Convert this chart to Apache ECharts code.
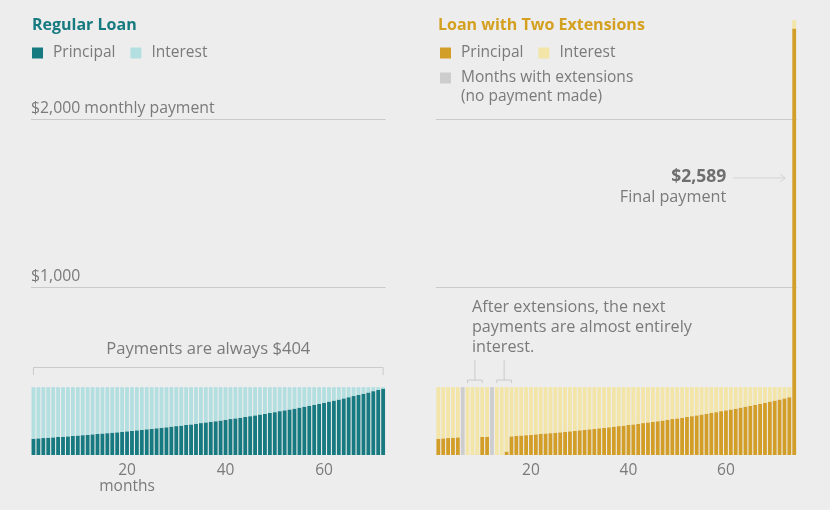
<!DOCTYPE html>
<html><head><meta charset="utf-8">
<script src="https://cdn.jsdelivr.net/npm/echarts@6/dist/echarts.min.js"></script>
<style>html,body{margin:0;padding:0;background:#ededed}#c{width:830px;height:510px}</style>
</head><body><div id="c"></div>
<script>
// ---- data ----
const tickLabels = ['20', '40', '60'];
const regularPayment = 404;
const regularPrincipal = [
  97, 99, 101, 103, 105, 107, 109, 111, 113, 116,
  118, 120, 123, 125, 128, 130, 133, 135, 138, 141,
  144, 147, 150, 153, 156, 159, 162, 165, 169, 172,
  175, 179, 182, 186, 190, 194, 197, 201, 205, 210,
  214, 218, 222, 227, 231, 236, 241, 245, 250, 255,
  261, 266, 271, 276, 282, 288, 293, 299, 305, 311,
  318, 324, 330, 337, 344, 351, 358, 365, 372, 380,
  387, 395];
const regularInterest = [
  307, 305, 303, 301, 299, 297, 295, 293, 291, 288,
  286, 284, 281, 279, 276, 274, 271, 269, 266, 263,
  260, 257, 254, 251, 248, 245, 242, 239, 235, 232,
  229, 225, 222, 218, 214, 210, 207, 203, 199, 194,
  190, 186, 182, 177, 173, 168, 163, 159, 154, 149,
  143, 138, 133, 128, 122, 116, 111, 105, 99, 93,
  86, 80, 74, 67, 60, 53, 46, 39, 32, 24,
  17, 9];
const extPrincipal = [
  97, 99, 101, 103, 105, 0, 1, 1, 2, 107,
  109, 0, 1, 1, 20, 111, 113, 116, 118, 120,
  123, 125, 128, 130, 133, 135, 138, 141, 144, 147,
  150, 153, 156, 159, 162, 165, 169, 172, 175, 179,
  182, 186, 190, 194, 197, 201, 205, 210, 214, 218,
  222, 227, 231, 236, 241, 245, 250, 255, 261, 266,
  271, 276, 282, 288, 293, 299, 305, 311, 318, 324,
  330, 337, 344, 2538];
const extInterest = [
  307, 305, 303, 301, 299, 0, 403, 403, 402, 297,
  295, 0, 403, 403, 384, 293, 291, 288, 286, 284,
  281, 279, 276, 274, 271, 269, 266, 263, 260, 257,
  254, 251, 248, 245, 242, 239, 235, 232, 229, 225,
  222, 218, 214, 210, 207, 203, 199, 194, 190, 186,
  182, 177, 173, 168, 163, 159, 154, 149, 143, 138,
  133, 128, 122, 116, 111, 105, 99, 93, 86, 80,
  74, 67, 60, 51];
const extensionMonths = [6, 12];

// ---- derived tables ----
const regularMonths = regularPrincipal.map((_, i) => String(i + 1));
const extMonths = extPrincipal.map((_, i) => String(i + 1));
const extSkipped = extMonths.map(m => extensionMonths.includes(+m) ? regularPayment : 0);
const finalPayment = extPrincipal[extPrincipal.length - 1] + extInterest[extInterest.length - 1];

const FONT = '"Open Sans", sans-serif';
const GRAY = '#7a7a7a';
const TEAL = '#177a80', TEAL_L = '#b4dfe1';
const GOLD = '#d29e28', GOLD_T = '#d4a020', GOLD_L = '#f3e5a7';
const EXT = '#cdcdcd';
const LINE = '#cacaca';

const chart = echarts.init(document.getElementById('c'));

const yMax = 2600;
const gridTop = 18.2, gridH = 436.8;

function xAxis(gi, data, withName) {
  return {
    type: 'category', gridIndex: gi, data: data, boundaryGap: true,
    axisLine: {show: false}, axisTick: {show: false}, splitLine: {show: false},
    axisLabel: {
      interval: (idx, v) => tickLabels.includes(v),
      formatter: v => (withName && v === tickLabels[0]) ? v + '\nmonths' : v,
      color: GRAY, fontSize: 15.5, fontFamily: FONT, margin: 8, lineHeight: 16
    }
  };
}
function yAxis(gi) {
  return {type: 'value', gridIndex: gi, min: 0, max: yMax, show: false, splitLine: {show: false}};
}
function mline(labels) {
  return {
    silent: true, symbol: 'none', z: 1, animation: false,
    lineStyle: {color: LINE, width: 1, type: 'solid'},
    emphasis: {disabled: true},
    label: {show: !!labels, position: 'insideStartTop', color: GRAY, fontSize: 15.8, fontFamily: FONT, distance: [0, 3], padding: 0},
    data: [
      {yAxis: 2000, label: {formatter: labels ? '$2,000 monthly payment' : ''}},
      {yAxis: 1000, label: {formatter: labels ? '$1,000' : ''}}
    ]
  };
}
const legendText = {color: GRAY, fontSize: 15.5, fontFamily: FONT, padding: [0, 0, 0, 5]};
const legendBase = {icon: 'rect', itemWidth: 11, itemHeight: 11, itemGap: 15, selectedMode: false, padding: 0,
  textStyle: legendText, formatter: n => n.trim()};

chart.setOption({
  animation: false,
  backgroundColor: '#ededed',
  title: [
    {text: 'Regular Loan', left: 27, top: 12, textStyle: {color: TEAL, fontSize: 16, fontWeight: 'bold', fontFamily: FONT}},
    {text: 'Loan with Two Extensions', left: 433, top: 12, textStyle: {color: GOLD_T, fontSize: 16, fontWeight: 'bold', fontFamily: FONT}}
  ],
  legend: [
    Object.assign({left: 32, top: 45, data: ['Principal', 'Interest']}, legendBase),
    Object.assign({left: 440, top: 45, data: ['Principal ', 'Interest ']}, legendBase),
    Object.assign({left: 440, top: 70, data: ['Months with extensions']}, legendBase)
  ],
  grid: [
    {left: 31, width: 354.6, top: gridTop, height: gridH},
    {left: 435.9, width: 360.75, top: gridTop, height: gridH}
  ],
  xAxis: [xAxis(0, regularMonths, true), xAxis(1, extMonths, false)],
  yAxis: [yAxis(0), yAxis(1)],
  series: [
    {type: 'bar', name: 'Principal', xAxisIndex: 0, yAxisIndex: 0, stack: 'L', data: regularPrincipal,
     itemStyle: {color: TEAL}, barCategoryGap: '22%', silent: true},
    {type: 'bar', name: 'Interest', xAxisIndex: 0, yAxisIndex: 0, stack: 'L', data: regularInterest,
     itemStyle: {color: TEAL_L}, barCategoryGap: '22%', silent: true, markLine: mline(true)},
    {type: 'bar', name: 'Principal ', xAxisIndex: 1, yAxisIndex: 1, stack: 'R', data: extPrincipal,
     itemStyle: {color: GOLD}, barCategoryGap: '22%', silent: true},
    {type: 'bar', name: 'Interest ', xAxisIndex: 1, yAxisIndex: 1, stack: 'R', data: extInterest,
     itemStyle: {color: GOLD_L}, barCategoryGap: '22%', silent: true, markLine: mline(false)},
    {type: 'bar', name: 'Months with extensions', xAxisIndex: 1, yAxisIndex: 1, stack: 'R', data: extSkipped,
     itemStyle: {color: EXT}, barCategoryGap: '22%', silent: true}
  ]
});

// ---- annotations anchored to data coordinates ----
const cp = (g, x, y) => chart.convertToPixel({gridIndex: g}, [x, y]);
const g = [];
// left bracket over all payments
{
  const a = cp(0, 0, 476), b = cp(0, 0, 521), c = cp(0, regularMonths.length - 1, 521), d = cp(0, regularMonths.length - 1, 476);
  g.push({type: 'polyline', shape: {points: [a, b, c, d]}, style: {stroke: LINE, lineWidth: 1, fill: null}, silent: true});
  const t = cp(0, 0, 628);
  g.push({type: 'text', x: (b[0] + c[0]) / 2, y: t[1], silent: true,
    style: {text: 'Payments are always $' + regularPayment, fill: GRAY, fontSize: 16.6, fontFamily: FONT, align: 'center', verticalAlign: 'middle'}});
}
// small brackets after each extension
extensionMonths.forEach(m => {
  const i0 = m, i1 = m + 3; // from the month after the extension
  const a = cp(1, i0, 428), b = cp(1, i0, 446), c = cp(1, i1, 446), d = cp(1, i1, 428);
  const mx = (b[0] + c[0]) / 2, top = cp(1, i0, 565)[1];
  g.push({type: 'polyline', shape: {points: [a, b, c, d]}, style: {stroke: LINE, lineWidth: 1, fill: null}, silent: true});
  g.push({type: 'line', shape: {x1: mx, y1: b[1], x2: mx, y2: top}, style: {stroke: LINE, lineWidth: 1}, silent: true});
});
{
  const p = cp(1, 7, 879);
  g.push({type: 'text', x: p[0] - 0.5, y: p[1] - 10, silent: true,
    style: {text: 'After extensions, the next\npayments are almost entirely\ninterest.', fill: GRAY, fontSize: 16.2, fontFamily: FONT,
            lineHeight: 20, align: 'left', verticalAlign: 'top'}});
}
// Extension legend second line
g.push({type: 'text', x: 461, y: 97, silent: true,
  style: {text: '(no payment made)', fill: GRAY, fontSize: 15.5, fontFamily: FONT, align: 'left', verticalAlign: 'middle'}});
// final payment call-out
{
  const f = cp(1, extMonths.length - 1, 1649);
  const xe = f[0] - 9, xs = f[0] - 61, y = f[1];
  g.push({type: 'line', shape: {x1: xs, y1: y, x2: xe, y2: y}, style: {stroke: '#d3d3d3', lineWidth: 1}, silent: true});
  g.push({type: 'polyline', shape: {points: [[xe - 5, y - 4], [xe, y], [xe - 5, y + 4]]}, style: {stroke: '#d3d3d3', lineWidth: 1, fill: null}, silent: true});
  const tx = f[0] - 68;
  g.push({type: 'text', x: tx, y: y - 1, silent: true,
    style: {text: '$' + finalPayment.toLocaleString('en-US'), fill: '#6e6e6e', fontSize: 17.5, fontWeight: 'bold', fontFamily: FONT, align: 'right', verticalAlign: 'middle'}});
  g.push({type: 'text', x: tx, y: y + 19, silent: true,
    style: {text: 'Final payment', fill: GRAY, fontSize: 16.2, fontFamily: FONT, align: 'right', verticalAlign: 'middle'}});
}
chart.setOption({graphic: g});
</script>
</body></html>
